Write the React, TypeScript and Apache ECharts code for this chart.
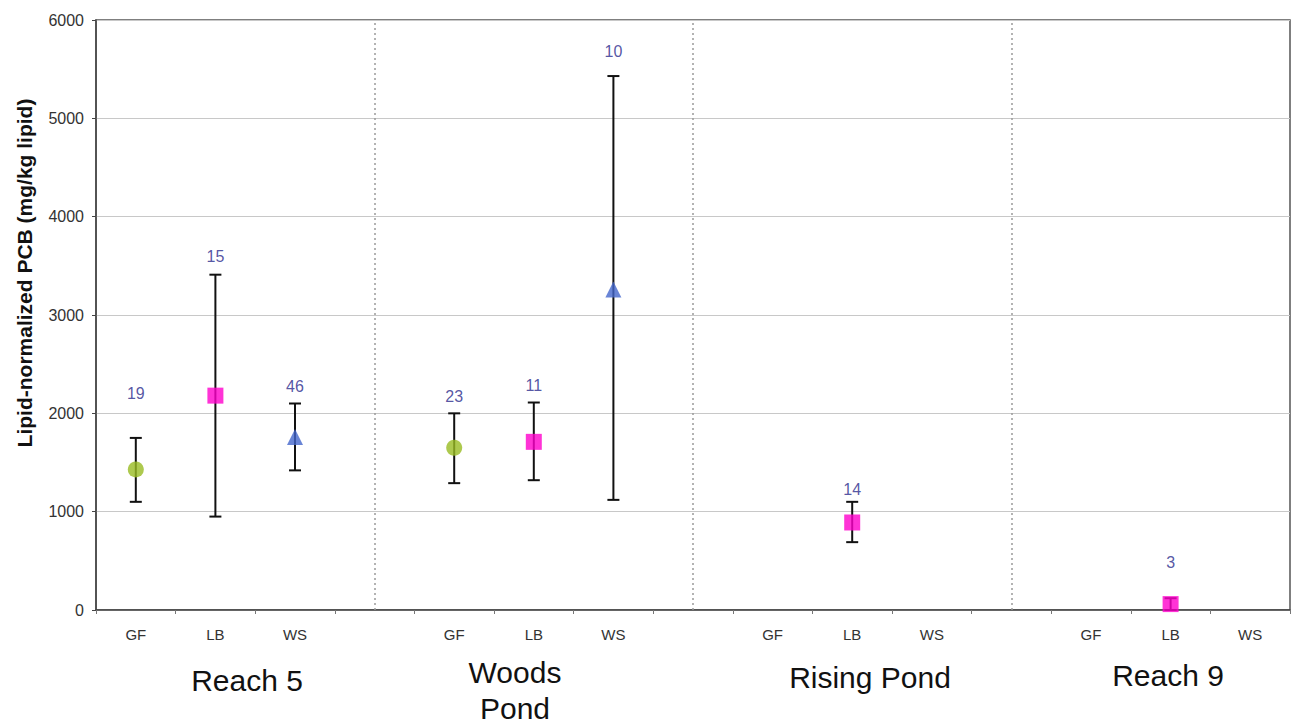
import React, { useEffect, useRef } from "react";
import * as echarts from "echarts";

const categories = ["GF", "LB", "WS", "", "GF", "LB", "WS", "", "GF", "LB", "WS", "", "GF", "LB", "WS"];
const yTicks = [0, 1000, 2000, 3000, 4000, 5000, 6000];

const gfIdx = [0, 4];
const gfMean = [1430, 1650];
const gfLow = [1100, 1290];
const gfHigh = [1750, 2000];

const lbIdx = [1, 5, 9, 13];
const lbMean = [2180, 1710, 890, 60];
const lbLow = [950, 1320, 690, 0];
const lbHigh = [3410, 2110, 1100, 120];

const wsIdx = [2, 6];
const wsMean = [1760, 3260];
const wsLow = [1420, 1120];
const wsHigh = [2100, 5430];

const nIdx = [0, 1, 2, 4, 5, 6, 9, 13];
const nValues = [19, 15, 46, 23, 11, 10, 14, 3];
const nLabelY = [2200, 3600, 2270, 2170, 2280, 5680, 1230, 480];

const dividerIdx = [3, 7, 11];
const groupNames = ["Reach 5", "Woods\nPond", "Rising Pond", "Reach 9"];
const yTitle = "Lipid-normalized PCB (mg/kg lipid)";

export default function App() {
  const ref = useRef<HTMLDivElement>(null);
  useEffect(() => {
    if (!ref.current) return;
    const chart = echarts.init(ref.current, null, { renderer: "svg" });

    const errData: number[][] = [];
    gfIdx.forEach((c, i) => errData.push([c, gfLow[i], gfHigh[i]]));
    lbIdx.forEach((c, i) => errData.push([c, lbLow[i], lbHigh[i]]));
    wsIdx.forEach((c, i) => errData.push([c, wsLow[i], wsHigh[i]]));

    const font = "Arial, 'Liberation Sans', sans-serif";
    const groupStyle = { fontSize: 30, fontFamily: font, fill: "#111", align: "center", verticalAlign: "middle" };

    const option: any = {
      animation: false,
      backgroundColor: "#ffffff",
      grid: { left: 96, right: 6, top: 20, bottom: 117, show: true, borderColor: "#555", borderWidth: 1.5 },
      xAxis: {
        type: "category",
        data: categories,
        boundaryGap: true,
        axisLine: { lineStyle: { color: "#444", width: 1.5 } },
        axisTick: { show: true, length: 4, lineStyle: { color: "#777" } },
        axisLabel: { color: "#333", fontSize: 15, fontFamily: font, margin: 17, interval: 0 },
        splitLine: { show: false },
      },
      yAxis: {
        type: "value",
        min: 0,
        max: 6000,
        interval: 1000,
        axisLine: { show: true, lineStyle: { color: "#444", width: 1.5 } },
        axisTick: { show: true, length: 4, lineStyle: { color: "#444" } },
        axisLabel: { color: "#333", fontSize: 16, fontFamily: font, margin: 12, formatter: (v: number) => (yTicks.includes(v) ? String(v) : "") },
        splitLine: { show: true, lineStyle: { color: "#c8c8c8", width: 1 } },
      },
      graphic: [
        { type: "text", x: 24, y: 273, rotation: Math.PI / 2, style: { text: yTitle, fontSize: 21, fontWeight: "bold", fontFamily: font, fill: "#111", align: "center", verticalAlign: "middle" } },
        { type: "text", x: 247, y: 680, style: { text: groupNames[0], ...groupStyle } },
        { type: "text", x: 515, y: 690, style: { text: groupNames[1], lineHeight: 36, ...groupStyle } },
        { type: "text", x: 870, y: 677, style: { text: groupNames[2], ...groupStyle } },
        { type: "text", x: 1168, y: 675, style: { text: groupNames[3], ...groupStyle } },
      ],
      series: [
        {
          type: "custom",
          name: "err",
          z: 2,
          data: errData,
          renderItem: (params: any, api: any) => {
            const x = api.value(0);
            const lo = api.coord([x, api.value(1)]);
            const hi = api.coord([x, api.value(2)]);
            const hw = 6;
            const style = { stroke: "#111", lineWidth: 2 };
            return {
              type: "group",
              children: [
                { type: "line", shape: { x1: lo[0], y1: lo[1], x2: hi[0], y2: hi[1] }, style },
                { type: "line", shape: { x1: lo[0] - hw, y1: lo[1], x2: lo[0] + hw, y2: lo[1] }, style },
                { type: "line", shape: { x1: hi[0] - hw, y1: hi[1], x2: hi[0] + hw, y2: hi[1] }, style },
              ],
            };
          },
          markLine: {
            silent: true,
            symbol: "none",
            label: { show: false },
            lineStyle: { color: "#9a9a9a", type: [2, 3], width: 1.5 },
            data: dividerIdx.map((d) => ({ xAxis: d })),
          },
        },
        {
          type: "scatter",
          name: "GF",
          z: 5,
          symbol: "circle",
          symbolSize: 16,
          itemStyle: { color: "#99bb22" },
          data: gfIdx.map((c, i) => [c, gfMean[i]]),
        },
        {
          type: "scatter",
          name: "LB",
          z: 5,
          symbol: "rect",
          symbolSize: 16,
          itemStyle: { color: "#ff00cc" },
          data: lbIdx.map((c, i) => [c, lbMean[i]]),
        },
        {
          type: "scatter",
          name: "WS",
          z: 5,
          symbol: "triangle",
          symbolSize: 16,
          itemStyle: { color: "#4466cc" },
          data: wsIdx.map((c, i) => [c, wsMean[i]]),
        },
        {
          type: "scatter",
          name: "n",
          z: 6,
          symbolSize: 0,
          itemStyle: { color: "transparent" },
          label: {
            show: true,
            position: "inside",
            formatter: (p: any) => String(p.value[2]),
            color: "#2a2a8c",
            fontSize: 16,
            fontFamily: font,
          },
          data: nIdx.map((c, i) => [c, nLabelY[i], nValues[i]]),
        },
      ],
    };
    chart.setOption(option);
    return () => chart.dispose();
  }, []);
  return <div ref={ref} style={{ width: 1296, height: 727, position: "absolute", left: 0, top: 0 }} />;
}
